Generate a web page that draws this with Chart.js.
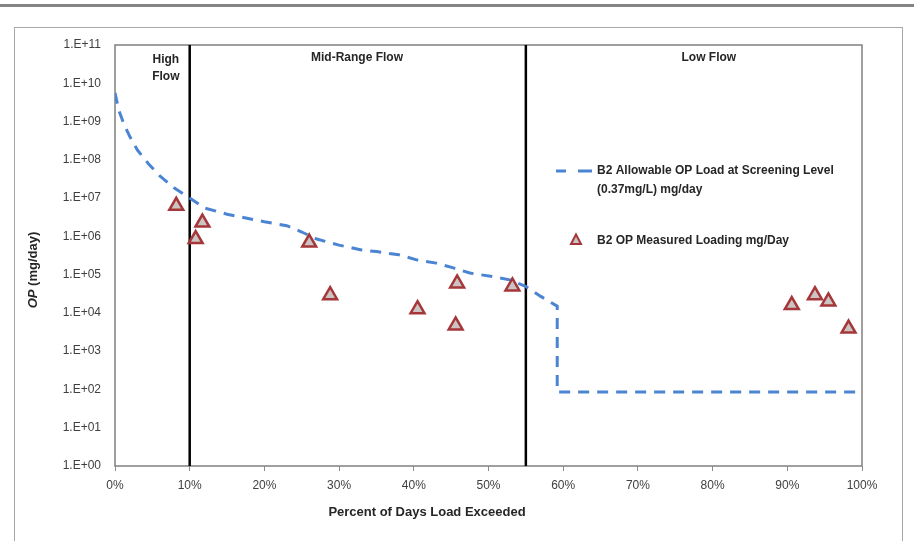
<!DOCTYPE html>
<html>
<head>
<meta charset="utf-8">
<script src="https://cdn.jsdelivr.net/npm/chart.js@4.4.1/dist/chart.umd.min.js"></script>
<style>
  html, body { margin: 0; padding: 0; background: #fff; }
  #wrap { position: relative; width: 914px; height: 541px; }
</style>
</head>
<body>
<div id="wrap"><canvas id="opChart" width="914" height="541"></canvas></div>
<script>
// ==== DATA ====
// allowable load curve (percent of days exceeded vs mg/day)
const allowPct = [0, 0.5, 1.2, 2, 3, 4.5, 6, 8, 10, 12, 15, 20, 23, 25, 27, 30, 33, 35, 38, 40.5, 43, 45.3, 47.5, 50.5, 53, 55, 57, 59.2, 59.2, 100];
const allowLoad = [5.6e9, 2.0e9, 8.5e8, 4.0e8, 1.8e8, 7.8e7, 3.8e7, 1.8e7, 1.0e7, 5.5e6, 3.8e6, 2.4e6, 1.9e6, 1.3e6, 8.5e5, 5.9e5, 4.4e5, 4.0e5, 3.3e5, 2.4e5, 2.0e5, 1.5e5, 1.1e5, 8.9e4, 7.2e4, 4.9e4, 2.7e4, 1.5e4, 86, 86];

// measured loads
const measPct = [8.2, 10.8, 11.7, 26.0, 28.8, 40.5, 45.6, 45.8, 53.2, 90.6, 93.7, 95.5, 98.2];
const measLoad = [6.3e6, 8.5e5, 2.3e6, 6.9e5, 2.9e4, 1.25e4, 4.7e3, 5.9e4, 4.9e4, 1.6e4, 2.9e4, 2.0e4, 3.9e3];

const flowBreaks = [10, 55];

const xTickValues = [0, 10, 20, 30, 40, 50, 60, 70, 80, 90, 100];
const xTickLabels = ['0%', '10%', '20%', '30%', '40%', '50%', '60%', '70%', '80%', '90%', '100%'];
const yTickValues = [1e0, 1e1, 1e2, 1e3, 1e4, 1e5, 1e6, 1e7, 1e8, 1e9, 1e10, 1e11];
const yTickLabels = ['1.E+00', '1.E+01', '1.E+02', '1.E+03', '1.E+04', '1.E+05', '1.E+06', '1.E+07', '1.E+08', '1.E+09', '1.E+10', '1.E+11'];

const seriesNames = ['B2 Allowable OP Load at Screening Level', '(0.37mg/L) mg/day', 'B2 OP Measured Loading mg/Day'];

// ==== STYLE ====
const FONT = '"Liberation Sans", Arial, sans-serif';
const LINE_BLUE = 'rgb(74,132,210)';
const TRI_EDGE = '#a5373a';
const TRI_FILL = '#cbc4c2';

const zip = (xs, ys) => xs.map((x, i) => ({ x: x, y: ys[i] }));

// ==== DECORATION PLUGIN ====
const decor = {
  id: 'decor',
  beforeDraw(chart) {
    const ctx = chart.ctx;
    ctx.save();
    ctx.fillStyle = '#fff';
    ctx.fillRect(0, 0, chart.width, chart.height);
    // top rule
    ctx.fillStyle = '#858585';
    ctx.fillRect(0, 4, chart.width, 3);
    // outer box
    ctx.strokeStyle = '#a8a8a8';
    ctx.lineWidth = 1;
    ctx.strokeRect(14.5, 27.5, 888, 530);
    ctx.restore();
  },
  beforeDatasetsDraw(chart) {
    const ctx = chart.ctx, a = chart.chartArea;
    ctx.save();
    ctx.strokeStyle = '#808080';
    ctx.lineWidth = 1.5;
    ctx.strokeRect(a.left, a.top, a.right - a.left, a.bottom - a.top);
    ctx.restore();
  },
  afterDraw(chart) {
    const ctx = chart.ctx;
    const xs = chart.scales.x;
    ctx.save();
    ctx.fillStyle = '#262626';
    ctx.textAlign = 'center';
    ctx.textBaseline = 'middle';

    // flow zone labels
    ctx.font = 'bold 12px ' + FONT;
    ctx.fillText('High', xs.getPixelForValue(6.8), 60);
    ctx.fillText('Flow', xs.getPixelForValue(6.8), 77);
    ctx.fillText('Mid-Range Flow', xs.getPixelForValue(32.4), 58);
    ctx.fillText('Low Flow', xs.getPixelForValue(79.5), 58);

    // x title
    ctx.font = 'bold 13px ' + FONT;
    ctx.fillText('Percent of Days Load Exceeded', 427, 512, 212);

    // y title (OP italic)
    ctx.translate(33, 270);
    ctx.rotate(-Math.PI / 2);
    ctx.textAlign = 'left';
    ctx.font = 'italic bold 13px ' + FONT;
    const w1 = ctx.measureText('OP').width;
    ctx.font = 'bold 13px ' + FONT;
    const w2 = ctx.measureText(' (mg/day)').width;
    const start = -(w1 + w2) / 2;
    ctx.font = 'italic bold 13px ' + FONT;
    ctx.fillText('OP', start, 0);
    ctx.font = 'bold 13px ' + FONT;
    ctx.fillText(' (mg/day)', start + w1, 0);
    ctx.setTransform(1, 0, 0, 1, 0, 0);

    // legend
    ctx.strokeStyle = LINE_BLUE;
    ctx.lineWidth = 3;
    ctx.beginPath();
    ctx.moveTo(556, 171); ctx.lineTo(566, 171);
    ctx.moveTo(578, 171); ctx.lineTo(592, 171);
    ctx.stroke();

    ctx.beginPath();
    ctx.moveTo(576, 234.5);
    ctx.lineTo(581, 244);
    ctx.lineTo(571, 244);
    ctx.closePath();
    ctx.fillStyle = TRI_FILL;
    ctx.fill();
    ctx.strokeStyle = TRI_EDGE;
    ctx.lineWidth = 2;
    ctx.stroke();

    ctx.fillStyle = '#262626';
    ctx.textAlign = 'left';
    ctx.font = 'bold 12px ' + FONT;
    ctx.fillText(seriesNames[0], 597, 171, 241);
    ctx.fillText(seriesNames[1], 597, 190, 114);
    ctx.fillText(seriesNames[2], 597, 241, 210);
    ctx.restore();
  }
};

// ==== CHART ====
const ctx = document.getElementById('opChart').getContext('2d');

const boundarySets = flowBreaks.map(b => ({
  label: 'break ' + b,
  data: [{ x: b, y: yTickValues[0] }, { x: b, y: yTickValues[yTickValues.length - 1] }],
  showLine: true,
  borderColor: '#000',
  borderWidth: 2.5,
  pointRadius: 0,
  order: 3
}));

const opChart = new Chart(ctx, {
  type: 'scatter',
  data: {
    datasets: [
      {
        label: seriesNames[0],
        data: zip(allowPct, allowLoad),
        showLine: true,
        borderColor: LINE_BLUE,
        borderWidth: 3,
        borderDash: [11, 8],
        pointRadius: 0,
        tension: 0,
        order: 2
      },
      {
        label: seriesNames[2],
        data: zip(measPct, measLoad),
        pointStyle: 'triangle',
        pointRadius: 8,
        pointBorderWidth: 2.5,
        pointBackgroundColor: TRI_FILL,
        pointBorderColor: TRI_EDGE,
        order: 1
      },
      ...boundarySets
    ]
  },
  options: {
    responsive: false,
    animation: false,
    devicePixelRatio: 1,
    layout: { padding: { left: 0, right: 52, top: 45, bottom: 0 } },
    plugins: {
      legend: { display: false },
      tooltip: { enabled: false }
    },
    scales: {
      x: {
        type: 'linear',
        min: 0,
        max: 100,
        afterBuildTicks: s => { s.ticks = xTickValues.map(v => ({ value: v })); },
        afterFit: s => { s.height = 75; },
        ticks: {
          callback: (v, i) => xTickLabels[i],
          autoSkip: false,
          maxRotation: 0,
          padding: 7,
          color: '#404040',
          font: { family: FONT, size: 12 }
        },
        grid: { drawOnChartArea: false, drawTicks: true, tickLength: 5, color: '#8c8c8c' },
        border: { display: false }
      },
      y: {
        type: 'logarithmic',
        min: 1,
        max: 1e11,
        afterBuildTicks: s => { s.ticks = yTickValues.map(v => ({ value: v })); },
        afterFit: s => { s.width = 115; },
        ticks: {
          callback: (v, i) => yTickLabels[i],
          autoSkip: false,
          padding: 14,
          color: '#404040',
          font: { family: FONT, size: 12 }
        },
        grid: { display: false, drawTicks: false },
        border: { display: false }
      }
    }
  },
  plugins: [decor]
});
</script>
</body>
</html>
